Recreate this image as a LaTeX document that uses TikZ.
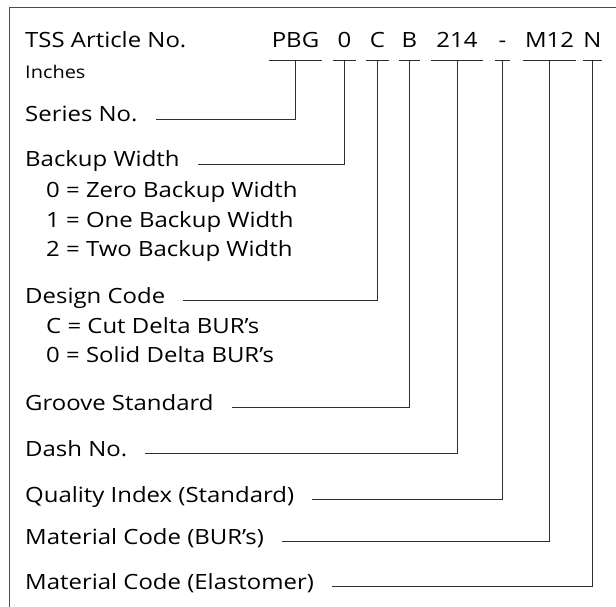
\documentclass[tikz,border=0pt]{standalone}
\usepackage{fontspec}
\setmainfont{Open Sans}
\newfontfamily\widefont[FakeStretch=1.14]{Open Sans}
\begin{document}
\begin{tikzpicture}[x=1pt,y=-1pt,
  lbl/.style={anchor=base west, inner sep=0pt, font=\widefont\fontsize{21}{23}\selectfont, text=black},
  sml/.style={anchor=base west, inner sep=0pt, font=\widefont\fontsize{17.5}{19}\selectfont, text=black},
  code/.style={anchor=base, inner sep=0pt, font=\widefont\fontsize{21}{23}\selectfont, text=black},
  conn/.style={draw=black!82, line width=0.9pt},
  frame/.style={draw=black!70, line width=1pt}]
\useasboundingbox (0,0) rectangle (616,607);
\draw[frame] (9,607) -- (9,8) -- (616,8);
% header
\node[lbl] (tss) at (25,48) {TSS Article No.};
\node[sml] (inch) at (25,79) {Inches};
\node[code, minimum width=53pt] (cpbg) at (295.5,48) {PBG};
\node[code, minimum width=23pt] (czero) at (344.5,48) {0};
\node[code, minimum width=23pt] (cc) at (377.5,48) {C};
\node[code, minimum width=21pt] (cb) at (409.5,48) {B};
\node[code, minimum width=52pt] (cnum) at (457,48) {214};
\node[code, minimum width=15pt] (cdash) at (502.5,48) {-};
\node[code, minimum width=53pt] (cm) at (549.5,48) {M12};
\node[code, minimum width=17pt] (cn) at (592.5,48) {N};
% labels
\node[lbl] (ser) at (25,122) {Series No.};
\node[lbl] (bw) at (25,167) {Backup Width};
\node[lbl] (bw0) at (46,197) {0 = Zero Backup Width};
\node[lbl] (bw1) at (46,227) {1 = One Backup Width};
\node[lbl] (bw2) at (46,256.5) {2 = Two Backup Width};
\node[lbl] (dc) at (25,303.5) {Design Code};
\node[lbl] (dcc) at (46,333) {C = Cut Delta BUR’s};
\node[lbl] (dc0) at (46,362.5) {0 = Solid Delta BUR’s};
\node[lbl] (gs) at (25,410) {Groove Standard};
\node[lbl] (dn) at (25,456) {Dash No.};
\node[lbl] (qi) at (25,502) {Quality Index (Standard)};
\node[lbl] (mb) at (25,544) {Material Code (BUR’s)};
\node[lbl] (me) at (25,589) {Material Code (Elastomer)};
% underlines
\foreach \c in {cpbg,czero,cc,cb,cnum,cdash,cm,cn}
  \draw[conn] ([yshift=-12pt]\c.south west) -- ([yshift=-12pt]\c.south east);
% connectors
\draw[conn] ([yshift=-12pt]cpbg.south) |- ([xshift=18pt]ser.mid east);
\draw[conn] ([yshift=-12pt]czero.south) |- ([xshift=18pt]bw.mid east);
\draw[conn] ([yshift=-12pt]cc.south) |- ([xshift=18pt]dc.mid east);
\draw[conn] ([yshift=-12pt]cb.south) |- ([xshift=18pt]gs.mid east);
\draw[conn] ([yshift=-12pt]cnum.south) |- ([xshift=18pt]dn.mid east);
\draw[conn] ([yshift=-12pt]cdash.south) |- ([xshift=18pt]qi.mid east);
\draw[conn] ([yshift=-12pt]cm.south) |- ([xshift=18pt]mb.mid east);
\draw[conn] ([yshift=-12pt]cn.south) |- ([xshift=18pt]me.mid east);
\end{tikzpicture}
\end{document}
